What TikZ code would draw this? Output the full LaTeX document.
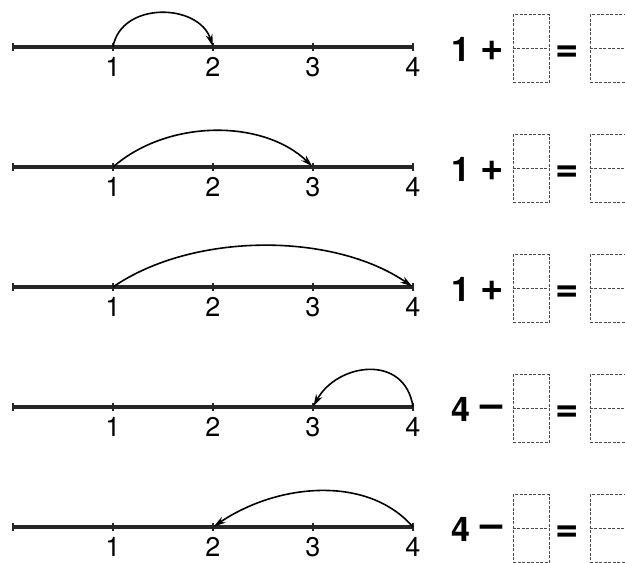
\documentclass[tikz,border=0pt]{standalone}
\usepackage{fontspec}
\setmainfont{TeX Gyre Heros}
\usetikzlibrary{arrows.meta,positioning,calc}

\begin{document}
\begin{tikzpicture}[
  x=1pt,y=1pt,
  >=Stealth,
  numline/.style={line width=3.6pt,draw=black!85},
  tickmark/.style={line width=1.4pt,draw=black!85},
  numlabel/.style={font=\fontsize{27}{30}\selectfont,anchor=north,inner sep=0pt},
  bignum/.style={font=\fontsize{34}{38}\selectfont\bfseries,anchor=base,inner sep=0pt},
  signtext/.style={font=\fontsize{40}{44}\selectfont\bfseries,anchor=base,inner sep=0pt},
  answerbox/.style={draw=black!70,dash pattern=on 3pt off 1.5pt,line width=1pt,
    minimum width=36pt,minimum height=68pt,inner sep=0pt},
  jumparrow/.style={line width=1.6pt,shorten >=1pt,
    arrows={-Stealth[length=12pt,width=7pt]}}
]
\useasboundingbox (0,0) rectangle (625,563);

% five number lines
\foreach \r/\y/\n/\s/\d in {1/516/1/+/13.5,2/396/1/+/13.5,3/276/1/+/13.5,4/156/4/–/11,5/36/4/–/11}{
  \draw[numline] (13,\y) -- (413,\y);
  \foreach \k in {0,...,4}{
    \coordinate (p\r-\k) at (13+100*\k,\y);
    \draw[tickmark] ($(p\r-\k)+(0,-4)$) -- ($(p\r-\k)+(0,4)$);
  }
  \foreach \k in {1,...,4}
    \node[numlabel] (l\r-\k) at ($(p\r-\k)+(0,-10)$) {\k};
  % equation
  \node[bignum] (a\r) at (461,\y-15) {\n};
  \node[signtext] (s\r) at (492,\y-\d) {\s};
  \node[answerbox] (b\r) at (531,\y-2) {};
  \draw[answerbox] (b\r.west) -- (b\r.east);
  \node[signtext] (e\r) at (567,\y-14.5) {=};
  \node[answerbox] (c\r) at (608,\y-2) {};
  \draw[answerbox] (c\r.west) -- (c\r.east);
}

% jumps
\draw[jumparrow] (p1-1) .. controls +(8,46) and +(-14,44) .. (p1-2);
\draw[jumparrow] (p2-1) .. controls +(55,48) and +(-50,48) .. (p2-3);
\draw[jumparrow] (p3-1) .. controls +(80,55) and +(-80,55) .. (p3-4);
\draw[jumparrow] (p4-4) .. controls +(-8,54) and +(24,44) .. (p4-3);
\draw[jumparrow] (p5-4) .. controls +(-45,52) and +(65,44) .. (p5-2);

\end{tikzpicture}
\end{document}
